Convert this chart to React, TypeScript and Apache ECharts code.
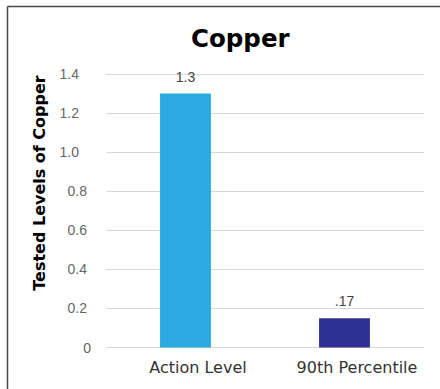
import React, { useEffect, useRef } from "react";
import * as echarts from "echarts";

const categories = ["Action Level", "90th Percentile"];
const values = [1.3, 0.15];
const valueLabels = ["1.3", ".17"];
const barColors = ["#29ABE2", "#2E3192"];
const yTickLabels: Record<string, string> = {
  "0": "0", "0.2": "0.2", "0.4": "0.4", "0.6": "0.6", "0.8": "0.8", "1": "1.0", "1.2": "1.2", "1.4": "1.4",
};
const yAxisTitle = "Tested Levels of Copper";

export default function App() {
  const ref = useRef<HTMLDivElement>(null);
  useEffect(() => {
    if (!ref.current) return;
    const chart = echarts.init(ref.current, null, { renderer: "svg" });
    chart.setOption({
      animation: false,
      backgroundColor: "#ffffff",
      title: {
        text: "Copper",
        left: 186,
        top: 21,
        textStyle: { fontFamily: "DejaVu Sans", fontWeight: "bold", fontSize: 24.5, color: "#000" },
      },
      graphic: [
        { type: "line", shape: { x1: 7.5, y1: 6.5, x2: 440, y2: 6.5 }, style: { stroke: "#4a4a4a", lineWidth: 1.5 } },
        { type: "line", shape: { x1: 7.5, y1: 6.5, x2: 7.5, y2: 389 }, style: { stroke: "#4a4a4a", lineWidth: 1.5 } },
        {
          type: "text",
          x: 39,
          y: 183,
          rotation: Math.PI / 2,
          style: {
            text: yAxisTitle,
            fontFamily: "DejaVu Sans",
            fontWeight: "bold",
            fontSize: 16,
            fill: "#000",
            align: "center",
            verticalAlign: "middle",
          },
        },
      ],
      grid: { left: 106, right: 16, top: 74, bottom: 389 - 347.5, containLabel: false },
      xAxis: {
        type: "category",
        data: categories,
        axisLine: { show: false },
        axisTick: { show: false },
        axisLabel: {
          interval: 0,
          fontFamily: "DejaVu Sans",
          fontSize: 16,
          color: "#333",
          margin: 12,
          padding: [0, 0, 0, 25],
        },
      },
      yAxis: {
        type: "value",
        min: 0,
        max: 1.4,
        interval: 0.2,
        axisLine: { show: false },
        axisTick: { show: false },
        splitLine: { lineStyle: { color: "#d9d9d9", width: 1 } },
        axisLabel: {
          fontFamily: "Liberation Sans",
          fontSize: 14,
          color: "#666",
          margin: 15,
          formatter: (v: number) => {
            const key = String(Math.round(v * 10) / 10);
            const t = yTickLabels[key] ?? String(v);
            if (v >= 0.99) return "{hi|" + t + "}";
            if (v > 0.01) return "{mid|" + t + "}";
            return t;
          },
          rich: {
            hi: { fontFamily: "Liberation Sans", fontSize: 14, color: "#666", padding: [0, 12, 0, 0] },
            mid: { fontFamily: "Liberation Sans", fontSize: 14, color: "#666", padding: [0, 4, 0, 0] },
          },
        },
      },
      series: [
        {
          type: "bar",
          barWidth: "32%",
          data: values.map((v, i) => ({ value: v, itemStyle: { color: barColors[i] } })),
          label: {
            show: true,
            position: "top",
            distance: 10,
            fontFamily: "Liberation Sans",
            fontSize: 14,
            color: "#444",
            formatter: (p: any) => valueLabels[p.dataIndex],
          },
        },
      ],
    });
    return () => chart.dispose();
  }, []);
  return (
    <div
      ref={ref}
      style={{ position: "absolute", left: 0, top: 0, width: 440, height: 389 }}
    />
  );
}
